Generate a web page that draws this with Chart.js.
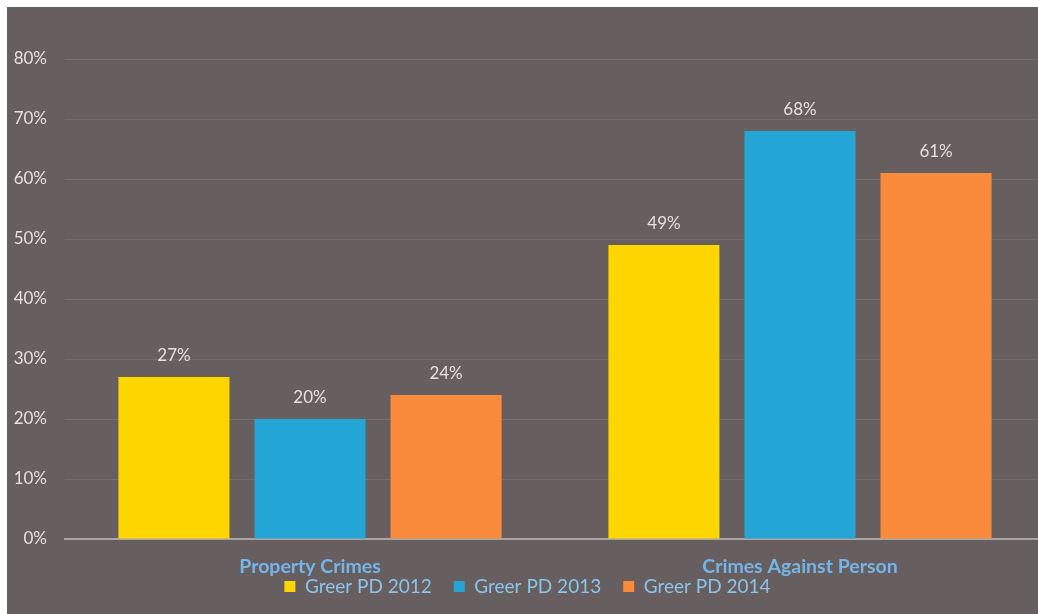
<!DOCTYPE html>
<html>
<head>
<meta charset="utf-8">
<script src="https://cdn.jsdelivr.net/npm/chart.js@4.4.0/dist/chart.umd.min.js"></script>
<style>
  html, body { margin: 0; padding: 0; background: #ffffff; overflow: hidden; }
  #wrap {
    position: absolute; left: 7px; top: 7px;
    width: 1031px; height: 607px;
    background: #665e5f; overflow: hidden;
  }
  #holder { position: absolute; left: 0; top: 0; width: 1040px; height: 607px; }
</style>
</head>
<body>
<div id="wrap"><div id="holder"><canvas id="grafico"></canvas></div></div>
<script>
// Categorias y series
const categorias = ['Property Crimes', 'Crimes Against Person'];
const series = ['Greer PD 2012', 'Greer PD 2013', 'Greer PD 2014'];
const greer2012 = [27, 49];
const greer2013 = [20, 68];
const greer2014 = [24, 61];
const ticksY = [0, 10, 20, 30, 40, 50, 60, 70, 80];

const colores = ['#fdd600', '#23a6d5', '#fa8b3d'];
const fuente = 'Lato, "Open Sans", sans-serif';

// Etiquetas de porcentaje sobre cada barra
const etiquetasBarras = {
    id: 'etiquetasBarras',
    afterDatasetsDraw(chart) {
        const ctx = chart.ctx;
        ctx.save();
        ctx.fillStyle = '#e4e0e0';
        ctx.font = '17px ' + fuente;
        ctx.textAlign = 'center';
        ctx.textBaseline = 'bottom';
        chart.data.datasets.forEach((ds, i) => {
            chart.getDatasetMeta(i).data.forEach((bar, j) => {
                ctx.fillText(ds.data[j] + '%', bar.x, bar.y - 13);
            });
        });
        ctx.restore();
    }
};

// Nombres de categoria pegados a la leyenda (el eje los recortaria)
const etiquetasCategorias = {
    id: 'etiquetasCategorias',
    afterDraw(chart) {
        const ctx = chart.ctx;
        const x = chart.scales.x;
        ctx.save();
        ctx.fillStyle = '#74b6ea';
        ctx.font = 'bold 19.5px ' + fuente;
        ctx.textAlign = 'center';
        ctx.textBaseline = 'middle';
        chart.data.labels.forEach((lbl, i) => {
            ctx.fillText(lbl, x.getPixelForValue(i), x.top + 28);
        });
        ctx.restore();
    }
};

const ctx = document.getElementById('grafico').getContext('2d');

new Chart(ctx, {
    type: 'bar',
    data: {
        labels: categorias,
        datasets: [
            { label: series[0], data: greer2012, backgroundColor: colores[0] },
            { label: series[1], data: greer2013, backgroundColor: colores[1] },
            { label: series[2], data: greer2014, backgroundColor: colores[2] }
        ]
    },
    options: {
        responsive: true,
        maintainAspectRatio: false,
        animation: false,
        categoryPercentage: 0.833,
        barPercentage: 0.816,
        layout: { padding: { top: 52, left: 3, right: 2, bottom: 8 } },
        plugins: {
            legend: {
                display: true,
                position: 'bottom',
                labels: {
                    color: '#8cc4ea',
                    boxWidth: 11,
                    boxHeight: 11,
                    padding: 22,
                    font: { family: fuente, size: 19 }
                }
            },
            tooltip: { enabled: false }
        },
        scales: {
            x: {
                grid: { display: false, drawTicks: false },
                border: { display: true, color: '#aaa5a5', width: 2 },
                afterFit(scale) { scale.height = 16; },
                ticks: { display: false }
            },
            y: {
                min: 0,
                max: 80,
                afterBuildTicks(scale) {
                    scale.ticks = ticksY.map(v => ({ value: v }));
                },
                afterFit(scale) { scale.width = 55; },
                grid: { color: 'rgba(255,255,255,0.10)', drawTicks: false },
                border: { display: false },
                ticks: {
                    color: '#e4e0e0',
                    padding: 18,
                    font: { family: fuente, size: 17 },
                    callback: v => v + '%'
                }
            }
        }
    },
    plugins: [etiquetasBarras, etiquetasCategorias]
});
</script>
</body>
</html>
